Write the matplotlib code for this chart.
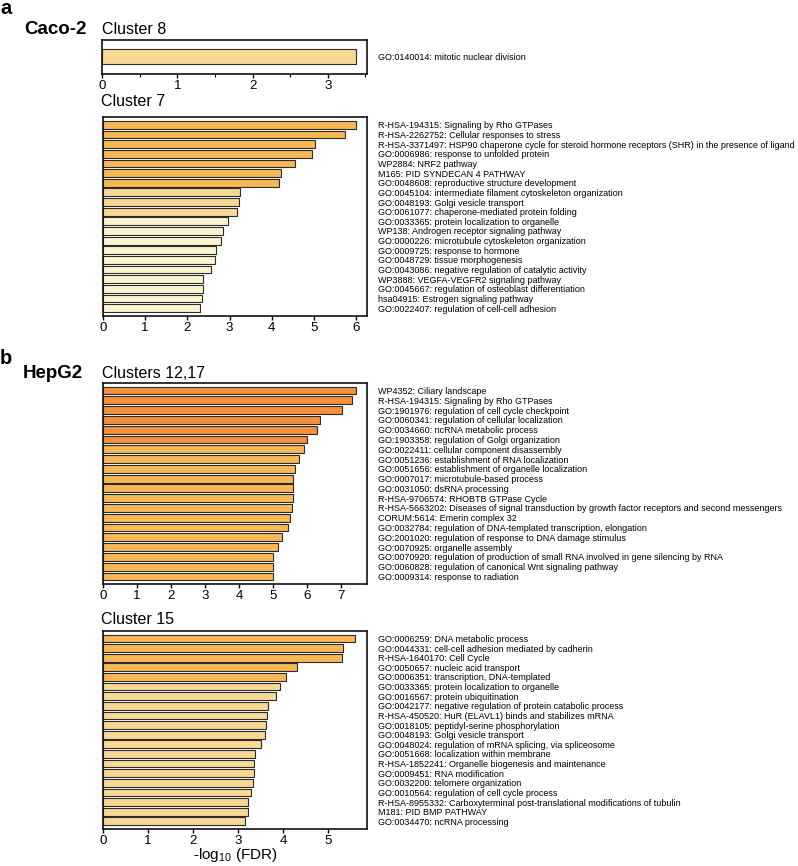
"""GO / pathway enrichment bars for Caco-2 and HepG2 clusters."""

import matplotlib
matplotlib.use("Agg")
import matplotlib.pyplot as plt
from matplotlib.ticker import MultipleLocator

plt.rcParams["font.family"] = ["Liberation Sans", "DejaVu Sans"]
plt.rcParams["mathtext.default"] = "regular"

W, H = 798, 866

C_DARK = "#F6903A"
C_ORANGE = "#F8B856"
C_LIGHT = "#F8D895"
C_PALE = "#FDF3CF"
EDGE = "#2b2b2b"

# ---- Caco-2, cluster 8
c8_terms = ["GO:0140014: mitotic nuclear division"]
c8_vals = [3.37]
c8_cols = [C_LIGHT]

# ---- Caco-2, cluster 7
c7_terms = [
    "R-HSA-194315: Signaling by Rho GTPases",
    "R-HSA-2262752: Cellular responses to stress",
    "R-HSA-3371497: HSP90 chaperone cycle for steroid hormone receptors (SHR) in the presence of ligand",
    "GO:0006986: response to unfolded protein",
    "WP2884: NRF2 pathway",
    "M165: PID SYNDECAN 4 PATHWAY",
    "GO:0048608: reproductive structure development",
    "GO:0045104: intermediate filament cytoskeleton organization",
    "GO:0048193: Golgi vesicle transport",
    "GO:0061077: chaperone-mediated protein folding",
    "GO:0033365: protein localization to organelle",
    "WP138: Androgen receptor signaling pathway",
    "GO:0000226: microtubule cytoskeleton organization",
    "GO:0009725: response to hormone",
    "GO:0048729: tissue morphogenesis",
    "GO:0043086: negative regulation of catalytic activity",
    "WP3888: VEGFA-VEGFR2 signaling pathway",
    "GO:0045667: regulation of osteoblast differentiation",
    "hsa04915: Estrogen signaling pathway",
    "GO:0022407: regulation of cell-cell adhesion",
]
c7_vals = [6.00, 5.73, 5.03, 4.95, 4.56, 4.21, 4.17, 3.26, 3.23, 3.17,
           2.97, 2.85, 2.79, 2.68, 2.65, 2.55, 2.38, 2.36, 2.35, 2.31]
c7_cols = [C_ORANGE] * 7 + [C_LIGHT] * 3 + [C_PALE] * 10

# ---- HepG2, clusters 12,17
c12_terms = [
    "WP4352: Ciliary landscape",
    "R-HSA-194315: Signaling by Rho GTPases",
    "GO:1901976: regulation of cell cycle checkpoint",
    "GO:0060341: regulation of cellular localization",
    "GO:0034660: ncRNA metabolic process",
    "GO:1903358: regulation of Golgi organization",
    "GO:0022411: cellular component disassembly",
    "GO:0051236: establishment of RNA localization",
    "GO:0051656: establishment of organelle localization",
    "GO:0007017: microtubule-based process",
    "GO:0031050: dsRNA processing",
    "R-HSA-9706574: RHOBTB GTPase Cycle",
    "R-HSA-5663202: Diseases of signal transduction by growth factor receptors and second messengers",
    "CORUM:5614: Emerin complex 32",
    "GO:0032784: regulation of DNA-templated transcription, elongation",
    "GO:2001020: regulation of response to DNA damage stimulus",
    "GO:0070925: organelle assembly",
    "GO:0070920: regulation of production of small RNA involved in gene silencing by RNA",
    "GO:0060828: regulation of canonical Wnt signaling pathway",
    "GO:0009314: response to radiation",
]
c12_vals = [7.44, 7.33, 7.04, 6.39, 6.29, 6.00, 5.92, 5.78, 5.66, 5.60,
            5.60, 5.60, 5.57, 5.50, 5.44, 5.28, 5.14, 5.01, 5.00, 5.00]
c12_cols = [C_DARK] * 6 + [C_ORANGE] * 14

# ---- HepG2, cluster 15
c15_terms = [
    "GO:0006259: DNA metabolic process",
    "GO:0044331: cell-cell adhesion mediated by cadherin",
    "R-HSA-1640170: Cell Cycle",
    "GO:0050657: nucleic acid transport",
    "GO:0006351: transcription, DNA-templated",
    "GO:0033365: protein localization to organelle",
    "GO:0016567: protein ubiquitination",
    "GO:0042177: negative regulation of protein catabolic process",
    "R-HSA-450520: HuR (ELAVL1) binds and stabilizes mRNA",
    "GO:0018105: peptidyl-serine phosphorylation",
    "GO:0048193: Golgi vesicle transport",
    "GO:0048024: regulation of mRNA splicing, via spliceosome",
    "GO:0051668: localization within membrane",
    "R-HSA-1852241: Organelle biogenesis and maintenance",
    "GO:0009451: RNA modification",
    "GO:0032200: telomere organization",
    "GO:0010564: regulation of cell cycle process",
    "R-HSA-8955332: Carboxyterminal post-translational modifications of tubulin",
    "M181: PID BMP PATHWAY",
    "GO:0034470: ncRNA processing",
]
c15_vals = [5.61, 5.33, 5.31, 4.32, 4.08, 3.93, 3.84, 3.67, 3.64, 3.62,
            3.61, 3.51, 3.39, 3.36, 3.35, 3.33, 3.29, 3.22, 3.22, 3.16]
c15_cols = [C_ORANGE] * 5 + [C_LIGHT] * 15


def px_axes(fig, x0, y0, x1, y1):
    return fig.add_axes([x0 / W, 1 - y1 / H, (x1 - x0) / W, (y1 - y0) / H])


def px_text(fig, x, y, s, ha="left", **kw):
    fig.text(x / W, 1 - y / H, s, va="baseline", ha=ha, **kw)


def bar_panel(ax, terms, vals, cols, xmax, ymargin=0.8, minor=False):
    n = len(vals)
    ax.barh(range(n), vals, height=0.8, color=cols, edgecolor=EDGE, linewidth=0.8)
    ax.set_xlim(0, xmax)
    ax.set_ylim(n - 1 + ymargin, -ymargin)
    ax.set_yticks(range(n))
    ax.set_yticklabels(terms, fontsize=6.45)
    ax.tick_params(axis="y", left=False, right=False, labelleft=False,
                   labelright=True, pad=4.5)
    ax.xaxis.set_major_locator(MultipleLocator(1))
    if minor:
        ax.xaxis.set_minor_locator(MultipleLocator(0.5))
    ax.tick_params(axis="x", which="major", length=3, width=1, labelsize=9.6, pad=1.0)
    ax.tick_params(axis="x", which="minor", length=2.5, width=0.8)
    for sp in ax.spines.values():
        sp.set_linewidth(1.2)
        sp.set_color("#111111")


fig = plt.figure(figsize=(W / 100, H / 100), dpi=100)

ax8 = px_axes(fig, 102, 39.5, 367, 74)
bar_panel(ax8, c8_terms, c8_vals, c8_cols, 3.52, ymargin=0.92, minor=True)

ax7 = px_axes(fig, 103, 117, 367, 316)
bar_panel(ax7, c7_terms, c7_vals, c7_cols, 6.26)

ax12 = px_axes(fig, 103, 382.7, 367, 584.3)
bar_panel(ax12, c12_terms, c12_vals, c12_cols, 7.77)

ax15 = px_axes(fig, 103, 630.7, 367, 829)
bar_panel(ax15, c15_terms, c15_vals, c15_cols, 5.87)

# shared x label under the last panel
px_text(fig, 235, 859.5, r"-log$_{10}$ (FDR)", ha="center", fontsize=11)

# panel letters / cell line names / cluster titles
px_text(fig, 0, 14.5, "a", fontsize=14.5, fontweight="bold")
px_text(fig, 0, 364, "b", fontsize=14.5, fontweight="bold")
px_text(fig, 24, 34, "Caco-2", fontsize=13.5, fontweight="bold")
px_text(fig, 23, 378.5, "HepG2", fontsize=13.5, fontweight="bold")
px_text(fig, 102, 34, "Cluster 8", fontsize=11.5)
px_text(fig, 101, 106, "Cluster 7", fontsize=11.5)
px_text(fig, 101.5, 377.5, "Clusters 12,17", fontsize=11.5)
px_text(fig, 101, 624, "Cluster 15", fontsize=11.5)

fig.savefig("out.png", dpi=100)
